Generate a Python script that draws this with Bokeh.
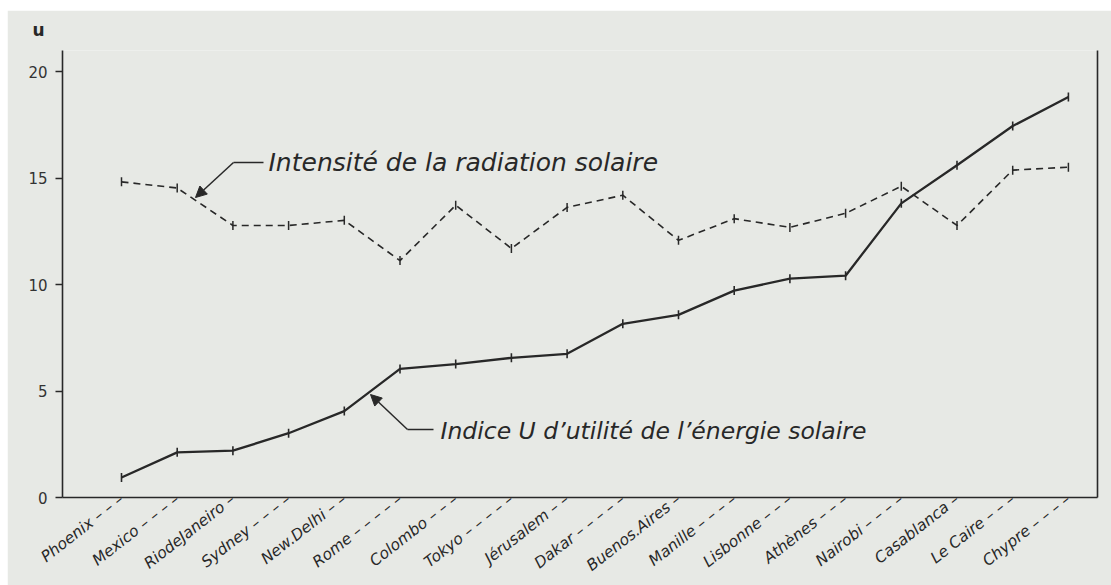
import math
from bokeh.plotting import figure
from bokeh.models import (Range1d, LinearAxis, FixedTicker, Label, Arrow,
                          NormalHead, Title)
from bokeh.embed import file_html
from bokeh.resources import INLINE

# ---------------- data ----------------
cities = ["Phoenix", "Mexico", "RiodeJaneiro", "Sydney", "New.Delhi", "Rome",
          "Colombo", "Tokyo", "Jérusalem", "Dakar", "Buenos.Aires", "Manille",
          "Lisbonne", "Athènes", "Nairobi", "Casablanca", "Le Caire", "Chypre"]
indice_u = [0.94, 2.12, 2.20, 3.02, 4.06, 6.04, 6.27, 6.56, 6.75, 8.16, 8.58,
            9.72, 10.28, 10.42, 13.82, 15.61, 17.45, 18.82]
intensite = [14.83, 14.54, 12.78, 12.78, 13.02, 11.13, 13.73, 11.70, 13.63,
             14.20, 12.08, 13.10, 12.69, 13.35, 14.62, 12.78, 15.38, 15.52]
y_ticks = [0, 5, 10, 15, 20]
label_u = "Indice U d’utilité de l’énergie solaire"
label_i = "Intensité de la radiation solaire"
axis_name = "u"

# ---------------- layout ----------------
PAPER = "#e7e9e5"
INK = "#282828"
W, H = 1104, 575
FL, FT, FR, FB = 55, 40, 1090, 487     # frame edges in figure pixels
SX = 55.7                               # px per category
X0 = -(114 - FL) / SX
X1 = X0 + (FR - FL) / SX
Y0, Y1 = 0, 21
SY = (FB - FT) / (Y1 - Y0)

def px2x(px):
    return X0 + (px - FL) / SX

def py2y(py):
    return Y1 - (py - FT) / SY

p = figure(width=W, height=H, output_backend="svg", toolbar_location=None,
           x_range=Range1d(X0, X1), y_range=Range1d(Y0, Y1),
           min_border_left=FL, min_border_right=W - FR,
           min_border_top=FT, min_border_bottom=H - FB)
p.margin = (10, 0, 0, 7)
p.background_fill_color = PAPER
p.border_fill_color = PAPER
p.outline_line_color = None
p.xgrid.visible = False
p.ygrid.visible = False

# "u" axis name as a title above the left axis
p.title = Title(text=axis_name, align="left", vertical_align="top", offset=-30,
                standoff=18, text_font="DejaVu Sans", text_font_style="bold",
                text_font_size="17px", text_color=INK)

# y axis
ya = p.yaxis[0]
ya.ticker = FixedTicker(ticks=y_ticks)
ya.major_tick_out = 7
ya.major_tick_in = 0
ya.minor_tick_out = 0
ya.minor_tick_in = 0
ya.axis_line_color = INK
ya.axis_line_width = 1.6
ya.major_tick_line_color = INK
ya.major_tick_line_width = 1.4
ya.major_label_standoff = 8
ya.major_label_text_font = "DejaVu Sans"
ya.major_label_text_font_size = "15px"
ya.major_label_text_color = "#333333"

# x axis: city names, slanted, each with a dashed leader up to the axis
ang = math.radians(38)
EM = {" ": .318, ".": .318, "A": .684, "B": .686, "C": .698, "D": .770,
      "J": .295, "L": .557, "M": .863, "N": .748, "P": .603, "R": .695,
      "S": .635, "T": .611, "a": .613, "b": .635, "c": .550, "d": .635,
      "e": .615, "h": .634, "i": .278, "k": .579, "l": .278, "m": .974,
      "n": .634, "o": .612, "p": .635, "r": .411, "s": .521, "t": .392,
      "u": .634, "w": .818, "x": .592, "y": .592, "é": .615, "è": .615}
TARGET = 6.9
MAXLEN = 7.15
UNIT = 0.818

def with_leader(name):
    w = sum(EM.get(ch, .6) for ch in name)
    n = max(1 if w < TARGET else 0, round((TARGET - w) / UNIT))
    while n > 1 and w + n * UNIT > MAXLEN:
        n -= 1
    return name + " –" * n

xs = list(range(len(cities)))
xa = p.xaxis[0]
xa.ticker = FixedTicker(ticks=xs)
xa.major_label_overrides = {i: with_leader(c) for i, c in zip(xs, cities)}
xa.major_label_orientation = ang
xa.major_label_standoff = 0
xa.major_label_text_font = "DejaVu Sans"
xa.major_label_text_font_style = "italic"
xa.major_label_text_font_size = "15.5px"
xa.major_label_text_color = INK
xa.major_tick_out = 0
xa.major_tick_in = 0
xa.minor_tick_out = 0
xa.minor_tick_in = 0
xa.axis_line_color = INK
xa.axis_line_width = 1.6

# right frame line
ra = LinearAxis(ticker=FixedTicker(ticks=[]), major_label_text_font_size="0px",
                major_tick_out=0, minor_tick_out=0, major_tick_in=0, minor_tick_in=0,
                axis_line_color=INK, axis_line_width=1.6)
p.add_layout(ra, "right")

# series
p.line(xs, intensite, line_color=INK, line_width=1.6, line_dash="7 5")
p.scatter(xs, intensite, marker="dash", angle=math.pi / 2, size=9,
          line_color=INK, line_width=1.5)
p.line(xs, indice_u, line_color=INK, line_width=2.3)
p.scatter(xs, indice_u, marker="dash", angle=math.pi / 2, size=9,
          line_color=INK, line_width=1.6)

# callout: intensity
p.add_layout(Label(x=px2x(261), y=py2y(152), text=label_i,
                   text_font="DejaVu Sans", text_font_style="italic",
                   text_font_size="25px", text_color=INK,
                   text_baseline="alphabetic"))
p.add_layout(Arrow(end=None, x_start=px2x(226), y_start=py2y(152),
                   x_end=px2x(256), y_end=py2y(152), line_color=INK, line_width=1.5))
p.add_layout(Arrow(end=NormalHead(size=11, fill_color=INK, line_color=INK),
                   x_start=px2x(226), y_start=py2y(152),
                   x_end=px2x(188), y_end=py2y(187), line_color=INK, line_width=1.5))

# callout: indice U
p.add_layout(Label(x=px2x(433), y=py2y(420), text=label_u,
                   text_font="DejaVu Sans", text_font_style="italic",
                   text_font_size="23.5px", text_color=INK,
                   text_baseline="alphabetic"))
p.add_layout(Arrow(end=None, x_start=px2x(400), y_start=py2y(419),
                   x_end=px2x(426), y_end=py2y(419), line_color=INK, line_width=1.5))
p.add_layout(Arrow(end=NormalHead(size=11, fill_color=INK, line_color=INK),
                   x_start=px2x(400), y_start=py2y(419),
                   x_end=px2x(363), y_end=py2y(384), line_color=INK, line_width=1.5))

open("out.html", "w").write(file_html(p, INLINE))
